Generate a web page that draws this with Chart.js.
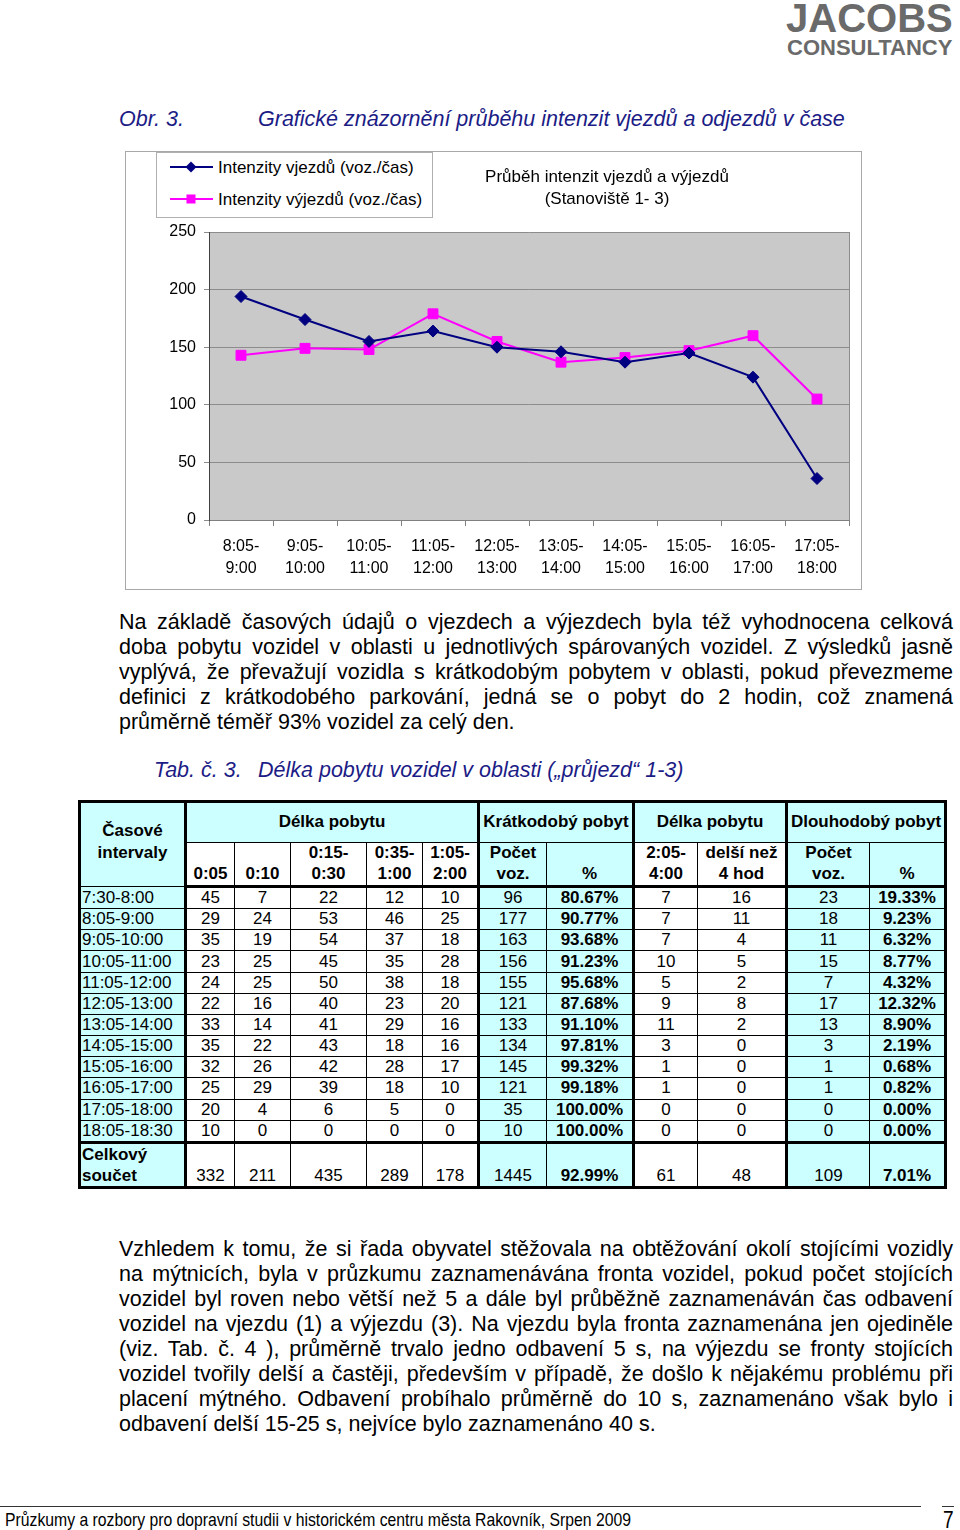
<!DOCTYPE html>
<html><head><meta charset="utf-8">
<script src="https://cdn.jsdelivr.net/npm/chart.js@4/dist/chart.umd.min.js"></script>
<style>
html,body{margin:0;padding:0;background:#fff;}
body{width:960px;height:1530px;position:relative;overflow:hidden;font-family:Arial,"Liberation Sans",sans-serif;color:#000;}
.abs{position:absolute;white-space:nowrap;line-height:1;}
.blue{color:#1c1c86;font-style:italic;font-size:21.5px;}
.para{position:absolute;left:119px;width:834px;font-size:21.5px;line-height:25px;}
.para div{text-align:justify;text-align-last:justify;}
.para div.last{text-align:left;text-align-last:left;}
#frame{position:absolute;left:125px;top:151px;width:737px;height:439px;box-sizing:border-box;border:1px solid #a8a8a8;pointer-events:none;}
#chartCanvas{position:absolute;left:125px;top:151px;}
#legend{position:absolute;left:156px;top:152px;width:277px;height:66px;box-sizing:border-box;border:1px solid #b0b0b0;background:#fff;}
.leg{position:absolute;left:13px;font-size:17px;line-height:17px;white-space:nowrap;}
.leg svg{position:absolute;left:0;top:1px;}
.leg span{position:absolute;left:48px;top:0;}
#ctitle{position:absolute;left:457px;top:166px;width:300px;text-align:center;font-size:17px;line-height:22px;}
table{position:absolute;left:78px;top:800px;border-collapse:collapse;table-layout:fixed;font-size:17px;}
td{padding:0;text-align:center;border:1px solid #000;overflow:hidden;white-space:nowrap;}
td.c{background:#ccffff;}
td.b{font-weight:bold;}
td.l{text-align:left;padding-left:1px;}
td.tl{border-left:3px solid #000;}
td.tr{border-right:3px solid #000;}
tr.tt td{border-top:3px solid #000;}
tr.tb td{border-bottom:3px solid #000;}
tr.dr td{height:20.17px;line-height:20px;}
tr.h1 td{height:37px;line-height:20px;font-weight:bold;vertical-align:middle;padding-bottom:2px;}
tr.h2 td{height:41px;font-weight:bold;vertical-align:bottom;line-height:20.5px;padding-bottom:1px;}
tr.tot td{height:41px;vertical-align:bottom;line-height:21px;}
</style></head>
<body>
<div class="abs" style="left:786px;top:-2px;font-size:40px;font-weight:bold;color:#6a6a6a;">JACOBS</div>
<div class="abs" style="left:787px;top:37px;font-size:22px;font-weight:bold;color:#6a6a6a;">CONSULTANCY</div>

<div class="abs blue" style="left:119px;top:109px;">Obr. 3.</div>
<div class="abs blue" style="left:258px;top:109px;">Grafické znázornění průběhu intenzit vjezdů a odjezdů v čase</div>

<canvas id="chartCanvas" width="737" height="439"></canvas>
<div id="frame"></div>
<div id="legend">
  <div class="leg" style="top:6px;"><svg width="44" height="14"><line x1="0" y1="7" x2="43" y2="7" stroke="#000080" stroke-width="2"/><polygon points="21,1.5 26.5,7 21,12.5 15.5,7" fill="#000080"/></svg><span>Intenzity vjezdů (voz./čas)</span></div>
  <div class="leg" style="top:38px;"><svg width="44" height="14"><line x1="0" y1="7" x2="43" y2="7" stroke="#ff00ff" stroke-width="2"/><rect x="16.5" y="2.5" width="9" height="9" fill="#ff00ff"/></svg><span>Intenzity výjezdů (voz./čas)</span></div>
</div>
<div id="ctitle">Průběh intenzit vjezdů a výjezdů<br>(Stanoviště 1- 3)</div>

<div class="para" style="top:610px;">
<div>Na základě časových údajů o vjezdech a výjezdech byla též vyhodnocena celková</div>
<div>doba pobytu vozidel v oblasti u jednotlivých spárovaných vozidel. Z výsledků jasně</div>
<div>vyplývá, že převažují vozidla s krátkodobým pobytem v oblasti, pokud převezmeme</div>
<div>definici z krátkodobého parkování, jedná se o pobyt do 2 hodin, což znamená</div>
<div class="last">průměrně téměř 93% vozidel za celý den.</div>
</div>

<div class="abs blue" style="left:154px;top:760px;">Tab. č. 3.</div>
<div class="abs blue" style="left:258px;top:760px;">Délka pobytu vozidel v oblasti („průjezd“ 1-3)</div>

<table id="tab">
<colgroup>
<col style="width:106px"><col style="width:49px"><col style="width:56px"><col style="width:76px"><col style="width:56px"><col style="width:56px"><col style="width:68px"><col style="width:87px"><col style="width:64px"><col style="width:89px"><col style="width:83px"><col style="width:76px">
</colgroup>
<tbody id="tbody">
<tr class="h1 tt">
<td class="c b tl tr" rowspan="2" style="vertical-align:top;padding-top:17px;line-height:22px;">Časové<br>intervaly</td>
<td class="c" colspan="5">Délka pobytu</td>
<td class="c tl tr" colspan="2">Krátkodobý pobyt</td>
<td class="c tr" colspan="2">Délka pobytu</td>
<td class="c tr" colspan="2">Dlouhodobý pobyt</td>
</tr>
<tr class="h2 tb">
<td>0:05</td><td>0:10</td><td>0:15-<br>0:30</td><td>0:35-<br>1:00</td><td class="tr">1:05-<br>2:00</td>
<td class="c">Počet<br>voz.</td><td class="c tr">%</td>
<td>2:05-<br>4:00</td><td class="tr">delší než<br>4 hod</td>
<td class="c">Počet<br>voz.</td><td class="c tr">%</td>
</tr>
</tbody>
</table>

<div class="para" style="top:1237px;">
<div>Vzhledem k tomu, že si řada obyvatel stěžovala na obtěžování okolí stojícími vozidly</div>
<div>na mýtnicích, byla v průzkumu zaznamenávána fronta vozidel, pokud počet stojících</div>
<div>vozidel byl roven nebo větší než 5 a dále byl průběžně zaznamenáván čas odbavení</div>
<div>vozidel na vjezdu (1) a výjezdu (3). Na vjezdu byla fronta zaznamenána jen ojediněle</div>
<div>(viz. Tab. č. 4 ), průměrně trvalo jedno odbavení 5 s, na výjezdu se fronty stojících</div>
<div>vozidel tvořily delší a častěji, především v případě, že došlo k nějakému problému při</div>
<div>placení mýtného. Odbavení probíhalo průměrně do 10 s, zaznamenáno však bylo i</div>
<div class="last">odbavení delší 15-25 s, nejvíce bylo zaznamenáno 40 s.</div>
</div>

<div style="position:absolute;left:0;top:1506px;width:921px;height:1px;background:#333;"></div>
<div style="position:absolute;left:942px;top:1506px;width:12px;height:1px;background:#333;"></div>
<div class="abs" style="left:5px;top:1510px;font-size:19px;transform:scaleX(0.829);transform-origin:0 0;">Průzkumy a rozbory pro dopravní studii v historickém centru města Rakovník, Srpen 2009</div>
<div class="abs" style="left:943px;top:1509px;font-size:23px;transform:scaleX(0.83);transform-origin:0 0;">7</div>

<script>
// ---- chart data ----
const categories = [['8:05-','9:00'],['9:05-','10:00'],['10:05-','11:00'],['11:05-','12:00'],['12:05-','13:00'],['13:05-','14:00'],['14:05-','15:00'],['15:05-','16:00'],['16:05-','17:00'],['17:05-','18:00']];
const vjezdy = [194,174,155,164,150,146,137,145,124,36];
const vyjezdy = [143,149,148,179,155,137,141,147,160,105];
const seriesNames = ['Intenzity vjezdů (voz./čas)','Intenzity výjezdů (voz./čas)'];
const yTicks = [0,50,100,150,200,250];

// ---- table data ----
const intervals = ['7:30-8:00','8:05-9:00','9:05-10:00','10:05-11:00','11:05-12:00','12:05-13:00','13:05-14:00','14:05-15:00','15:05-16:00','16:05-17:00','17:05-18:00','18:05-18:30'];
const d005 = [45,29,35,23,24,22,33,35,32,25,20,10];
const d010 = [7,24,19,25,25,16,14,22,26,29,4,0];
const d015 = [22,53,54,45,50,40,41,43,42,39,6,0];
const d035 = [12,46,37,35,38,23,29,18,28,18,5,0];
const d105 = [10,25,18,28,18,20,16,16,17,10,0,0];
const kratkPocet = [96,177,163,156,155,121,133,134,145,121,35,10];
const kratkPct = ['80.67%','90.77%','93.68%','91.23%','95.68%','87.68%','91.10%','97.81%','99.32%','99.18%','100.00%','100.00%'];
const d205 = [7,7,7,10,5,9,11,3,1,1,0,0];
const d4h = [16,11,4,5,2,8,2,0,0,0,0,0];
const dlouhPocet = [23,18,11,15,7,17,13,3,1,1,0,0];
const dlouhPct = ['19.33%','9.23%','6.32%','8.77%','4.32%','12.32%','8.90%','2.19%','0.68%','0.82%','0.00%','0.00%'];
const totalLabel = 'Celkový<br>součet';
const totals = [332,211,435,289,178,1445,'92.99%',61,48,109,'7.01%'];

// build table rows
const tb = document.getElementById('tbody');
function rowHtml(first, vals, firstCls){
  const cls = ['','','','','tr','c','c b tr','','tr','c','c b tr'];
  let h = '<td class="c l tl tr '+(firstCls||'')+'">'+first+'</td>';
  vals.forEach((v,i)=>{ h += '<td class="'+cls[i]+'">'+v+'</td>'; });
  return h;
}
intervals.forEach((iv,i)=>{
  const tr = document.createElement('tr');
  tr.className = 'dr';
  tr.innerHTML = rowHtml(iv,[d005[i],d010[i],d015[i],d035[i],d105[i],kratkPocet[i],kratkPct[i],d205[i],d4h[i],dlouhPocet[i],dlouhPct[i]]);
  tb.appendChild(tr);
});
const trT = document.createElement('tr');
trT.className = 'tot tt tb';
trT.innerHTML = rowHtml(totalLabel, totals, 'b');
tb.appendChild(trT);

// ---- chart ----
const plotBg = {
  id:'plotBg',
  beforeDraw(chart){
    const {ctx, chartArea:a} = chart;
    ctx.save();
    ctx.fillStyle = '#c9c9c9';
    ctx.fillRect(a.left, a.top, a.right-a.left, a.bottom-a.top);
    ctx.restore();
  },
  beforeDatasetsDraw(chart){
    const {ctx, chartArea:a} = chart;
    ctx.save();
    ctx.strokeStyle = '#8c8c8c';
    ctx.lineWidth = 1;
    ctx.beginPath();
    ctx.moveTo(Math.round(a.right)+0.5, a.top);
    ctx.lineTo(Math.round(a.right)+0.5, a.bottom);
    ctx.stroke();
    ctx.restore();
  }
};
const fontFam = 'Arial, "Liberation Sans", sans-serif';
new Chart(document.getElementById('chartCanvas'), {
  type:'line',
  data:{
    labels:categories,
    datasets:[
      {label:seriesNames[0], data:vjezdy, borderColor:'#000080', backgroundColor:'#000080', pointBackgroundColor:'#000080', pointBorderColor:'#000080', pointStyle:'rectRot', pointRadius:6, pointBorderWidth:1, borderWidth:2, tension:0, fill:false},
      {label:seriesNames[1], data:vyjezdy, borderColor:'#ff00ff', backgroundColor:'#ff00ff', pointBackgroundColor:'#ff00ff', pointBorderColor:'#ff00ff', pointStyle:'rect', pointRadius:7, pointBorderWidth:1, borderWidth:2, tension:0, fill:false}
    ]
  },
  options:{
    responsive:false, animation:false, devicePixelRatio:1,
    layout:{padding:{top:81,right:13,left:0,bottom:0}},
    plugins:{legend:{display:false}, title:{display:false}, tooltip:{enabled:false}},
    scales:{
      x:{
        offset:true,
        grid:{offset:true, drawOnChartArea:false, drawTicks:true, tickLength:6, color:'#808080'},
        border:{color:'#808080', width:1},
        ticks:{color:'#000', font:{family:fontFam, size:16, lineHeight:1.375}, padding:10, maxRotation:0, autoSkip:false},
        afterFit(s){ s.height = 70; }
      },
      y:{
        min:0, max:250,
        afterBuildTicks(s){ s.ticks = yTicks.map(v=>({value:v})); },
        grid:{color:'#8c8c8c', tickLength:5, drawTicks:true},
        border:{color:'#404040', width:1},
        ticks:{color:'#000', font:{family:fontFam, size:16}, padding:8},
        afterFit(s){ s.width = 84; }
      }
    }
  },
  plugins:[plotBg]
});
</script>
</body></html>
